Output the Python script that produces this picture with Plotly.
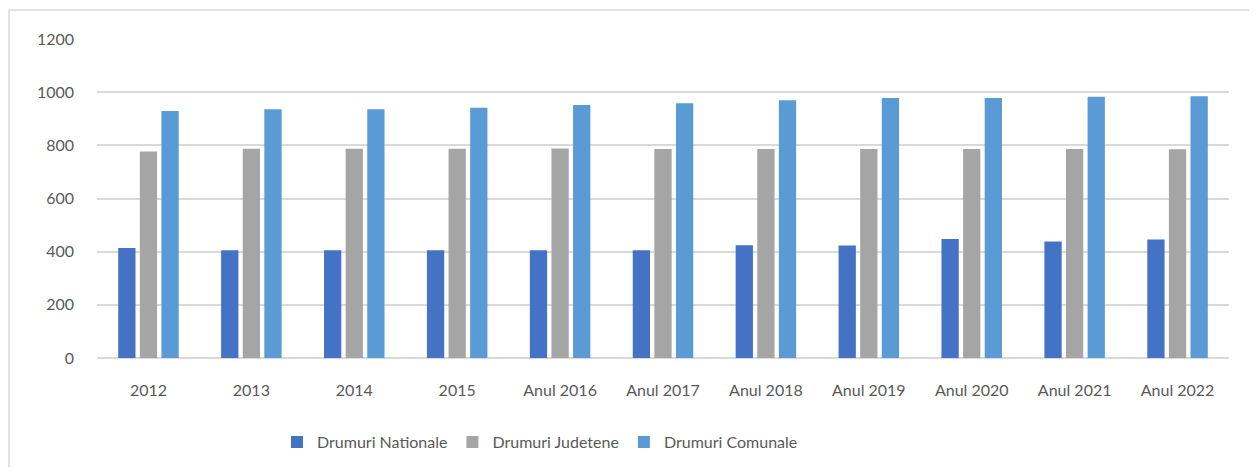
import plotly.graph_objects as go

years = ["2012", "2013", "2014", "2015", "Anul 2016", "Anul 2017", "Anul 2018",
         "Anul 2019", "Anul 2020", "Anul 2021", "Anul 2022"]
nationale = [414, 405, 405, 405, 405, 405, 424, 423, 448, 438, 446]
judetene = [777, 787, 787, 787, 788, 786, 786, 786, 786, 786, 785]
comunale = [929, 936, 936, 941, 952, 958, 970, 978, 978, 983, 985]

series = [
    ("Drumuri Nationale", nationale, "#4472C4"),
    ("Drumuri Judetene", judetene, "#A5A5A5"),
    ("Drumuri Comunale", comunale, "#5B9BD5"),
]

FONT = "Lato, Carlito, Calibri, sans-serif"
TXT = "#595959"
GRID = "#D9D9D9"

fig = go.Figure()
for name, vals, col in series:
    fig.add_trace(go.Bar(x=years, y=vals, name=name,
                         marker=dict(color=col, line=dict(width=0))))

# page body has an 8px margin, so the figure is sized to sit inside the window
fig.update_layout(
    width=1241, height=459,
    margin=dict(l=89, r=20, t=31, b=109, autoexpand=False),
    paper_bgcolor="white", plot_bgcolor="white",
    font=dict(family=FONT, size=16, color=TXT),
    barmode="group", bargap=0.37, bargroupgap=0.2,
    legend=dict(orientation="h", x=0.159, xanchor="left",
                yref="container", y=0.054, yanchor="middle",
                font=dict(size=16, color=TXT), itemwidth=30),
    xaxis=dict(showgrid=False, showline=False, ticks="", ticklabelstandoff=21,
               automargin=False, tickfont=dict(size=16, color=TXT)),
    yaxis=dict(range=[0, 1200], dtick=200, showgrid=True, gridcolor=GRID, gridwidth=1.5,
               zeroline=True, zerolinecolor=GRID, zerolinewidth=1.5, showline=False,
               automargin=False, ticks="", ticklabelstandoff=22,
               tickfont=dict(size=16, color=TXT)),
    shapes=[dict(type="rect", xref="paper", yref="paper",
                 x0=-0.0777, x1=1.05, y0=-0.45, y1=1.091,
                 line=dict(color=GRID, width=1.5), layer="below")],
)

fig.write_html("out.html")
